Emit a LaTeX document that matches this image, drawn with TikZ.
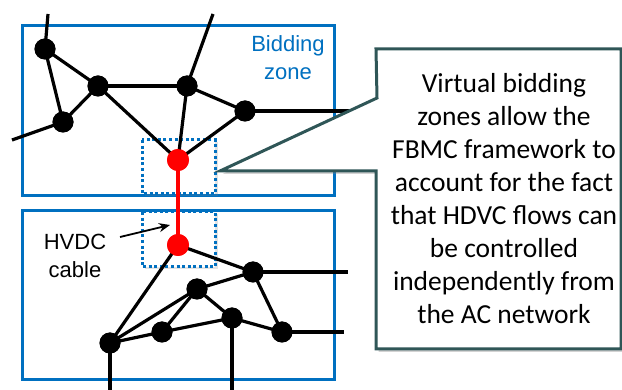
\documentclass[tikz,border=0pt]{standalone}
\usepackage{fontspec}
\setmainfont{Liberation Sans}
\newfontfamily\calloutfont{Carlito}
\usetikzlibrary{arrows.meta,shadows}
\definecolor{zoneblue}{HTML}{0070C0}
\definecolor{callteal}{HTML}{2F5657}
\definecolor{busred}{HTML}{FF0000}
\tikzset{
  zonebox/.style={draw=zoneblue,line width=3pt},
  vzone/.style={draw=zoneblue,line width=3pt,dash pattern=on 3pt off 2.6pt,
     fill=white,drop shadow={opacity=0.22,shadow xshift=2.5pt,shadow yshift=-2.5pt}},
  bus/.style={circle,fill=black,inner sep=0pt,minimum size=21pt},
  redbus/.style={circle,fill=busred,inner sep=0pt,minimum size=22pt},
  line/.style={draw=black,line width=3.2pt},
  dcline/.style={draw=busred,line width=3.2pt},
  lbl/.style={font=\fontsize{22}{28}\selectfont,align=center,inner sep=0pt},
}
\begin{document}
\begin{tikzpicture}[x=1pt,y=-1pt]
\useasboundingbox (0,0) rectangle (622,390);
% zone boxes
\draw[zonebox] (22,26) rectangle (334,196);
\draw[zonebox] (22,211) rectangle (334,380);
% virtual zones
\draw[vzone] (142,140) rectangle (215,194);
\draw[vzone] (142,212) rectangle (215,267);
% top nodes
\node[bus] (A) at (45,49) {};
\node[bus] (B) at (98,86) {};
\node[bus] (C) at (63,122) {};
\node[bus] (D) at (187,86) {};
\node[bus] (E) at (245,111) {};
\node[redbus] (R1) at (178,160) {};
\coordinate (Atop) at (48,14);
\coordinate (Dtop) at (213,14);
\coordinate (Cleft) at (12,140);
\coordinate (Eright) at (350,111);
% bottom nodes
\node[redbus] (R2) at (178,245) {};
\node[bus] (F) at (253,272) {};
\node[bus] (G) at (197,289) {};
\node[bus] (H) at (232,318) {};
\node[bus] (I) at (282,332) {};
\node[bus] (J) at (162,332) {};
\node[bus] (K) at (110,343) {};
\coordinate (Fright) at (348,272);
\coordinate (Iright) at (344,332);
\coordinate (Kdown) at (110,392);
\coordinate (Hdown) at (232,392);
% edges
\path[line] (A.center) -- (Atop);
\path[line] (A.center) -- (B.center);
\path[line] (A.center) -- (C.center);
\path[line] (B.center) -- (C.center);
\path[line] (C.center) -- (Cleft);
\path[line] (B.center) -- (D.center);
\path[line] (B.center) -- (R1.center);
\path[line] (D.center) -- (R1.center);
\path[line] (D.center) -- (Dtop);
\path[line] (D.center) -- (E.center);
\path[line] (E.center) -- (R1.center);
\path[line] (E.center) -- (Eright);
\path[dcline] (R1.center) -- (R2.center);
\path[line] (R2.center) -- (K.center);
\path[line] (R2.center) -- (F.center);
\path[line] (F.center) -- (Fright);
\path[line] (K.center) -- (G.center);
\path[line] (K.center) -- (J.center);
\path[line] (J.center) -- (G.center);
\path[line] (J.center) -- (H.center);
\path[line] (G.center) -- (F.center);
\path[line] (G.center) -- (H.center);
\path[line] (H.center) -- (I.center);
\path[line] (F.center) -- (I.center);
\path[line] (I.center) -- (Iright);
\path[line] (K.center) -- (Kdown);
\path[line] (H.center) -- (Hdown);
% redraw nodes on top
\foreach \n in {A,B,C,D,E,F,G,H,I,J,K}{\fill[black] (\n) circle (10.5pt);}
\foreach \n in {R1,R2}{\fill[busred] (\n) circle (11pt);}
% labels
\node[lbl,text=zoneblue] (zlab) at (288,58) {Bidding\\zone};
\node[lbl,text=black] (hlab) at (75,256) {HVDC\\cable};
\coordinate (harrow) at (170,225);
\coordinate (hstart) at (120,237);
\draw[line width=1.8pt,-{Stealth[length=11pt,width=9pt]}] (hstart) -- (harrow);
% callout
\coordinate (c1) at (376,49);
\coordinate (c2) at (621,49);
\coordinate (c3) at (621,349);
\coordinate (c4) at (376,349);
\coordinate (c5) at (376,171);
\coordinate (tip) at (220,171);
\coordinate (c6) at (377,98);
\draw[draw=callteal,line width=3pt,fill=white,line join=miter,
  drop shadow={opacity=0.35,shadow xshift=2.5pt,shadow yshift=-3pt}]
  (c1) -- (c2) -- (c3) -- (c4) -- (c5) -- (tip) -- (c6) -- cycle;
\node[font=\calloutfont\fontsize{27.5}{33}\selectfont,align=center,inner sep=0pt] (ctext) at (504,199)
  {Virtual bidding\\zones allow the\\FBMC framework to\\account for the fact\\that HDVC flows can\\be controlled\\independently from\\the AC network};
\end{tikzpicture}
\end{document}
